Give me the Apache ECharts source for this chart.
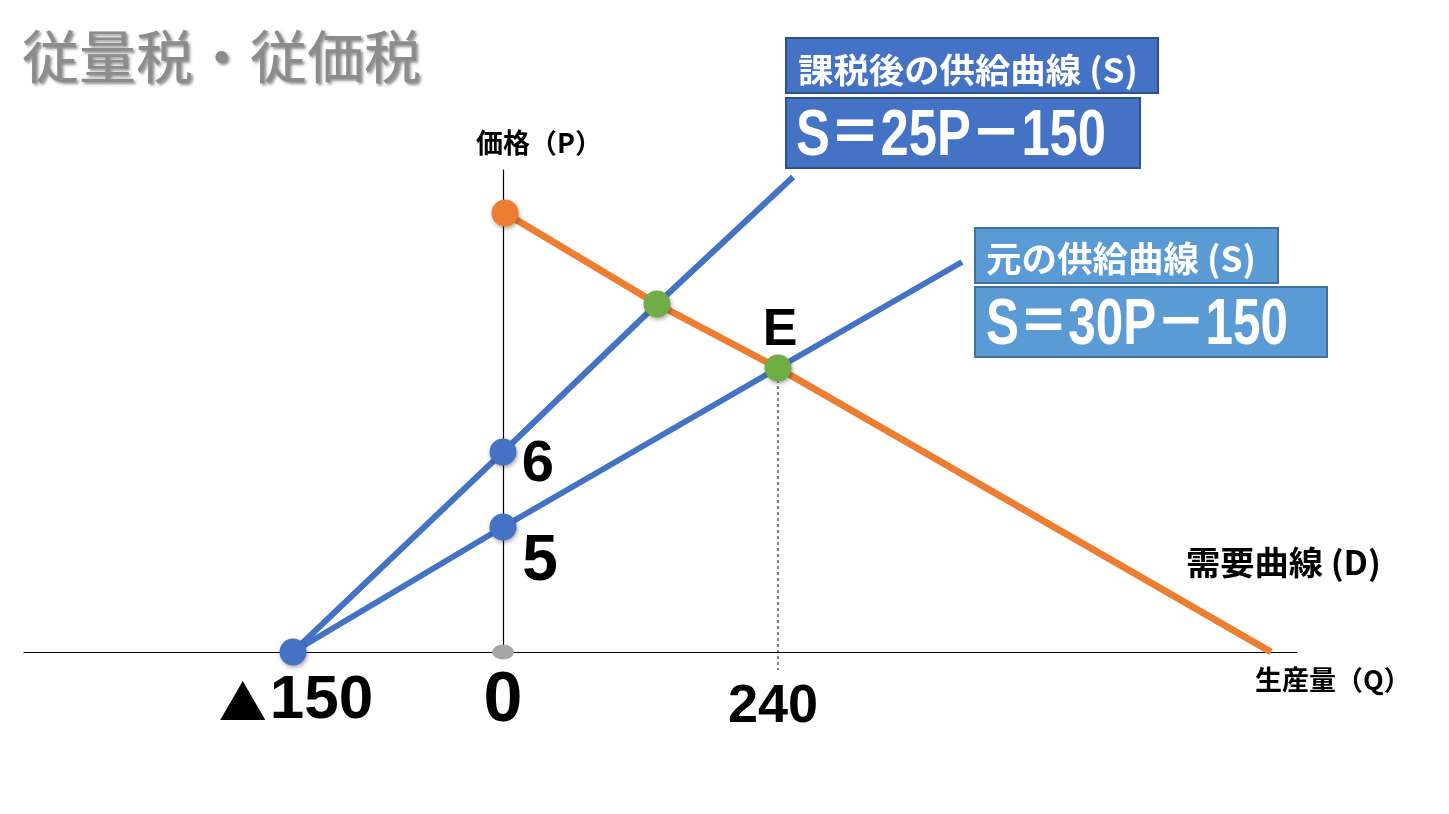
<!DOCTYPE html>
<html>
<head>
    <meta charset="utf-8">
    <title>従量税・従価税</title>
    <script src="https://cdn.jsdelivr.net/npm/echarts@6/dist/echarts.min.js"></script>
    <style>
        html, body { margin: 0; padding: 0; background: #fff; }
    </style>
</head>
<body>
    <div id="main" style="width: 1449px;height:814px;"></div>
    <script type="text/javascript">
        // 図の座標（原点 = 生産量0・価格0、図上の目盛りで読み取り）
        var demand = [[2, 439], [154, 348], [275, 284], [768, 0]];            // 需要曲線(D)
        var supplyTax = [[-210, 0], [0, 200], [154, 348], [290, 475]];        // 課税後の供給曲線
        var supplyOrig = [[-210, 0], [0, 125], [275, 284], [459, 390]];       // 元の供給曲線
        var bluePoints = [[-210, 0], [0, 200], [0, 125]];
        var demandTop = [[2, 439]];
        var crossPoints = [[154, 348], [275, 284]];
        var originPoint = [[0, 0]];
        var eGuide = [[275, 284], [275, -18]];

        var qTicks = [[-210, 0], [0, 0], [275, 0]];
        var qTickLabels = ['▲150', '0', '240'];
        var pTicks = [[0, 200], [0, 125]];
        var pTickLabels = ['6', '5'];
        var ePoint = [[275, 284]];
        var eLabel = 'E';

        var blue = '#4472C4', orange = '#ED7D31', green = '#70AD47';

        var myChart = echarts.init(document.getElementById('main'));

        // 横に詰めた文字幅を合わせる
        var ctx = document.createElement('canvas').getContext('2d');
        function fitX(text, font, width) {
            ctx.font = font;
            return width / ctx.measureText(text).width;
        }
        function txt(text, x, y, font, fill, width) {
            var el = {
                type: 'text', x: x, y: y, z: 20,
                style: { text: text, font: font, fill: fill, textAlign: 'left', textVerticalAlign: 'middle' }
            };
            if (width) el.scaleX = fitX(text, font, width);
            return el;
        }
        function box(x, y, w, h, fill, stroke) {
            return {
                type: 'rect', z: 19, shape: { x: x, y: y, width: w, height: h },
                style: { fill: fill, stroke: stroke, lineWidth: 2 }
            };
        }

        var cjk = '"Noto Sans CJK JP"';
        var formulaFont = 'bold 64px "Liberation Sans", ' + cjk;
        var dotShadow = { shadowBlur: 4, shadowColor: 'rgba(0,0,0,0.35)', shadowOffsetX: 1, shadowOffsetY: 2 };
        var tickLabel = {
            show: true, position: 'inside', color: '#000', fontWeight: 'bold',
            textBorderWidth: 0, fontFamily: '"Liberation Sans", ' + cjk,
            rich: {
                tri: { fontSize: 48, fontFamily: cjk, color: '#000', verticalAlign: 'bottom', padding: [0, 3, 6, 0] }
            }
        };

        function labelled(points, labels, sizes, offsets) {
            return points.map(function (p, i) {
                var t = labels[i].replace('▲', '{tri|▲}');
                return {
                    value: p,
                    label: { formatter: t, fontSize: sizes[i], offset: offsets[i] }
                };
            });
        }

        option = {
            animation: false,
            grid: { left: 24, right: 152, top: 170, bottom: 162 },
            xAxis: {
                type: 'value', min: -479, max: 794,
                axisLine: { onZero: false, lineStyle: { color: '#000', width: 1.2 } },
                axisTick: { show: false }, axisLabel: { show: false }, splitLine: { show: false }
            },
            yAxis: {
                type: 'value', min: 0, max: 482,
                axisLine: { show: true, onZero: true, lineStyle: { color: '#000', width: 1.2 } },
                axisTick: { show: false }, axisLabel: { show: false }, splitLine: { show: false }
            },
            graphic: [
                {
                    type: 'text', x: 22, y: 56,
                    style: {
                        text: '従量税・従価税', font: '57px ' + cjk, fill: '#8c8c8c',
                        textAlign: 'left', textVerticalAlign: 'middle',
                        textShadowColor: 'rgba(0,0,0,0.45)', textShadowBlur: 3,
                        textShadowOffsetX: 2, textShadowOffsetY: 2
                    }
                },
                box(786, 38, 372, 55, blue, '#2F528F'),
                txt('課税後の供給曲線 (S)', 798, 70, 'bold 34px ' + cjk, '#fff', 340),
                box(786, 98, 354, 70, blue, '#2F528F'),
                txt('S＝25P－150', 796, 137, formulaFont, '#fff', 310),
                box(975, 228, 303, 55, '#5B9BD5', '#41719C'),
                txt('元の供給曲線 (S)', 986, 259, 'bold 35px ' + cjk, '#fff', 270),
                box(975, 287, 352, 70, '#5B9BD5', '#41719C'),
                txt('S＝30P－150', 986, 326, formulaFont, '#fff', 302),
                txt('価格（P）', 476, 143, 'bold 27px ' + cjk, '#000'),
                txt('生産量（Q）', 1255, 680, 'bold 27px ' + cjk, '#000'),
                txt('需要曲線 (D)', 1186, 562, 'bold 33px ' + cjk, '#000', 195)
            ],
            series: [
                {
                    type: 'line', z: 1, data: eGuide, symbol: 'none', clip: false,
                    lineStyle: { color: '#000', width: 1, type: [3, 3] }
                },
                {
                    type: 'line', z: 2, data: demand, symbol: 'none',
                    lineStyle: { color: orange, width: 7 }
                },
                {
                    type: 'line', z: 2, data: supplyTax, symbol: 'none',
                    lineStyle: { color: blue, width: 6 }
                },
                {
                    type: 'line', z: 2, data: supplyOrig, symbol: 'none',
                    lineStyle: { color: blue, width: 6 }
                },
                {
                    type: 'scatter', z: 5, data: originPoint, symbolSize: [22, 15], clip: false,
                    itemStyle: { color: '#a6a6a6', opacity: 1 }
                },
                {
                    type: 'scatter', z: 6, data: bluePoints, symbolSize: 27, clip: false,
                    itemStyle: Object.assign({ color: blue, opacity: 1 }, dotShadow)
                },
                {
                    type: 'scatter', z: 6, data: demandTop, symbolSize: 27,
                    itemStyle: Object.assign({ color: orange, opacity: 1 }, dotShadow)
                },
                {
                    type: 'scatter', z: 6, data: crossPoints, symbolSize: 27,
                    itemStyle: Object.assign({ color: green, opacity: 1 }, dotShadow)
                },
                {
                    type: 'scatter', z: 7, data: ePoint, symbolSize: 0, silent: true,
                    itemStyle: { opacity: 1 },
                    label: {
                        show: true, position: 'inside', color: '#000', fontWeight: 'bold',
                        textBorderWidth: 0, fontFamily: 'Liberation Sans', fontSize: 52,
                        offset: [2, -37], formatter: eLabel
                    }
                },
                {
                    type: 'scatter', z: 7, symbolSize: 0, clip: false, silent: true,
                    itemStyle: { opacity: 1 },
                    data: labelled(qTicks, qTickLabels, [62, 70, 54], [[3, 49], [0, 50], [-5, 55]]),
                    label: tickLabel
                },
                {
                    type: 'scatter', z: 7, symbolSize: 0, clip: false, silent: true,
                    itemStyle: { opacity: 1 },
                    data: labelled(pTicks, pTickLabels, [58, 64], [[35, 13], [37, 35]]),
                    label: tickLabel
                }
            ]
        };

        myChart.setOption(option);
    </script>
</body>
</html>
